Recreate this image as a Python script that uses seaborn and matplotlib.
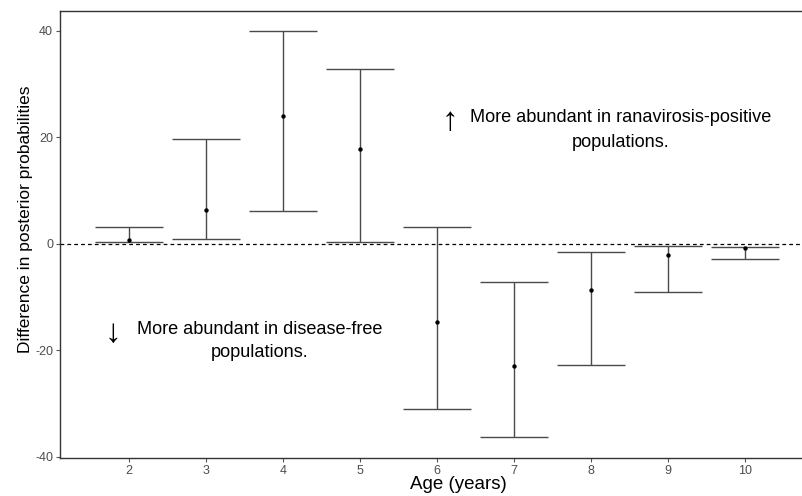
import matplotlib
matplotlib.use("Agg")
import matplotlib.pyplot as plt
import seaborn as sns
import pandas as pd

ages = [2, 3, 4, 5, 6, 7, 8, 9, 10]
estimate = [0.75, 6.4, 24.1, 17.8, -14.7, -22.9, -8.6, -2.1, -0.7]
lower = [0.45, 0.9, 6.2, 0.45, -31.0, -36.3, -22.7, -9.1, -2.8]
upper = [3.1, 19.65, 39.9, 32.9, 3.1, -7.2, -1.6, -0.4, -0.5]
yticks = [-40, -20, 0, 20, 40]

df = pd.DataFrame({"age": ages, "est": estimate, "lo": lower, "hi": upper})

sns.set_style("white")
plt.rcParams["font.family"] = ["Liberation Sans", "DejaVu Sans"]
plt.rcParams["axes.unicode_minus"] = False

fig = plt.figure(figsize=(8.02, 4.96), dpi=100)
W, H = 802, 496
ax = fig.add_axes([60 / W, (H - 458) / H, 742 / W, (458 - 11) / H])

ax.axhline(0, color="black", linestyle=(0, (3, 2.5)), linewidth=0.9, zorder=1)

eb = ax.errorbar(df["age"], df["est"],
                 yerr=[df["est"] - df["lo"], df["hi"] - df["est"]],
                 fmt="none", ecolor="#4a4a4a", elinewidth=1.0, capsize=24.8,
                 capthick=1.0, zorder=2)
for cap in eb[1]:
    cap.set_color("#1a1a1a")
sns.scatterplot(data=df, x="age", y="est", color="black", s=10,
                edgecolor="black", linewidth=0, ax=ax, zorder=3)

ax.set_xlim(1.108, 10.74)
ax.set_ylim(-40.2, 43.75)
ax.set_xticks(ages)
ax.set_xticklabels([str(a) for a in ages])
ax.set_yticks(yticks)
ax.set_yticklabels([str(t) for t in yticks])

ax.tick_params(axis="both", which="major", direction="out", length=3,
               width=0.8, color="#555555", labelcolor="#4d4d4d",
               labelsize=9, pad=2, left=True, bottom=True)

for side in ["left", "bottom", "top"]:
    ax.spines[side].set_visible(True)
    ax.spines[side].set_color("#333333")
    ax.spines[side].set_linewidth(1.0)
ax.spines["right"].set_visible(False)

ax.set_xlabel("Age (years)", fontsize=13.5, color="black")
ax.set_ylabel("Difference in posterior probabilities", fontsize=12.5, color="black")
ax.xaxis.set_label_coords((458 - 60) / 742, -0.04)
ax.yaxis.set_label_coords(-0.037, (458 - 219) / 447)

ax.text(8.39, 21.4, "More abundant in ranavirosis-positive\npopulations.",
        ha="center", va="center", fontsize=13.1, linespacing=1.55, color="black")
ax.text(6.17, 23.0, "\u2191", ha="center", va="center", fontsize=24, color="black")
ax.text(3.705, -18.2, "More abundant in disease-free\npopulations.",
        ha="center", va="center", fontsize=13.1, linespacing=1.45, color="black")
ax.text(1.796, -16.8, "\u2193", ha="center", va="center", fontsize=24, color="black")

fig.savefig("out.png", dpi=100)
